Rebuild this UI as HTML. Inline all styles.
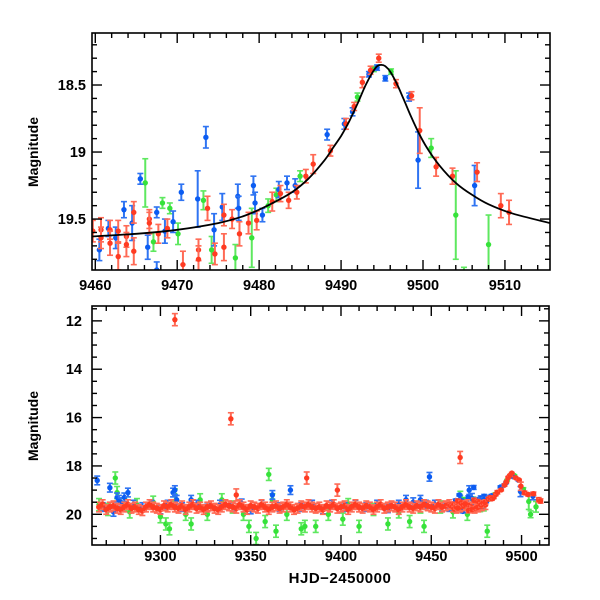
<!DOCTYPE html>
<html><head><meta charset="utf-8"><style>
html,body{margin:0;padding:0;background:#fff;}
svg{display:block;font-family:"Liberation Sans",sans-serif;}
</style></head><body>
<svg id="chart" width="600" height="600" viewBox="0 0 600 600">
<defs>
<clipPath id="c1"><rect x="92" y="33" width="458" height="237"/></clipPath>
<clipPath id="c2"><rect x="92" y="306" width="457" height="239"/></clipPath>
</defs>
<g id="top"></g>
<g id="bot"></g>
<text x="340" y="583" text-anchor="middle" font-size="15" font-weight="bold" letter-spacing="0.5">HJD−2450000</text>
<text transform="translate(38,152) rotate(-90)" text-anchor="middle" font-size="14" font-weight="bold">Magnitude</text>
<text transform="translate(38,426) rotate(-90)" text-anchor="middle" font-size="14" font-weight="bold">Magnitude</text>
</svg>
<script>
// ---- top panel data ----
const topRedDays=[9459.7,9460.7,9460.7,9461.8,9461.8,9462.8,9462.8,9463.8,9463.8,9464.7,9464.7,9466.6,9466.6,9467.7,9468.8,9470.7,9472.6,9472.6,9473.7,9474.6,9475.7,9475.7,9476.7,9477.6,9478.7,9479.7,9481.6,9482.6,9483.6,9484.6,9485.7,9486.6,9488.7,9490.6,9491.6,9492.6,9493.6,9494.6,9496.7,9498.6,9499.6,9501.6,9503.6,9506.6,9509.5,9510.5];
const topRedMags=[19.59,19.58,19.64,19.58,19.68,19.59,19.78,19.63,19.69,19.45,19.74,19.50,19.53,19.61,19.57,19.84,19.73,19.80,19.42,19.76,19.47,19.71,19.50,19.61,19.53,19.51,19.37,19.31,19.36,19.30,19.18,19.09,18.99,18.79,18.66,18.48,18.39,18.30,18.49,18.58,18.84,19.11,19.18,19.15,19.40,19.45];
const topRedErr=[0.08,0.09,0.08,0.07,0.09,0.08,0.1,0.08,0.09,0.08,0.1,0.07,0.08,0.07,0.07,0.1,0.08,0.1,0.09,0.08,0.08,0.1,0.07,0.09,0.08,0.07,0.07,0.06,0.06,0.05,0.05,0.07,0.04,0.04,0.03,0.04,0.03,0.03,0.03,0.03,0.17,0.07,0.06,0.07,0.09,0.09];
const topBlueDays=[9460.5,9461.6,9462.5,9463.5,9464.5,9465.5,9466.4,9467.5,9467.5,9468.5,9469.5,9470.5,9472.5,9473.5,9474.5,9475.5,9477.4,9477.5,9479.3,9479.5,9480.4,9482.4,9483.4,9484.4,9488.3,9490.4,9491.4,9493.4,9494.4,9495.4,9498.3,9499.4,9506.3];
const topBlueMags=[19.73,19.57,19.64,19.43,19.53,19.20,19.71,19.45,19.88,19.59,19.52,19.30,19.35,18.89,19.58,19.41,19.33,19.42,19.25,19.38,19.47,19.28,19.23,19.25,18.87,18.79,18.70,18.42,18.37,18.45,18.59,19.06,19.25];
const topBlueErr=[0.08,0.06,0.08,0.06,0.13,0.04,0.09,0.04,0.06,0.09,0.08,0.06,0.21,0.08,0.12,0.1,0.09,0.09,0.07,0.08,0.05,0.06,0.05,0.05,0.04,0.04,0.03,0.02,0.02,0.02,0.03,0.21,0.15];
const topGreenDays=[9466.1,9467.1,9468.2,9469.1,9470.1,9473.2,9474.2,9477.1,9479.1,9481.1,9482.1,9485.0,9492.0,9494.0,9496.1,9501.0,9504.0,9505.0,9508.0];
const topGreenMags=[19.23,19.67,19.38,19.42,19.61,19.36,19.73,19.79,19.64,19.40,19.32,19.18,18.59,18.38,18.40,18.97,19.47,20.00,19.69];
const topGreenErr=[0.18,0.07,0.04,0.04,0.08,0.07,0.1,0.1,0.22,0.05,0.05,0.04,0.03,0.02,0.02,0.07,0.33,0.14,0.22];
const fitDays=[9459.6,9465,9470,9475,9478,9480,9482,9484,9486,9488,9489,9490,9491,9492,9493,9493.8,9494.4,9494.9,9495.4,9496,9496.8,9497.6,9498.5,9499.5,9500.5,9502,9504,9506,9508,9511,9515.5];
const fitMags=[19.63,19.61,19.58,19.53,19.48,19.43,19.37,19.30,19.20,19.06,18.97,18.88,18.77,18.64,18.50,18.41,18.36,18.35,18.36,18.40,18.49,18.60,18.73,18.86,18.97,19.10,19.23,19.32,19.39,19.46,19.53];
const topXTicks=[9460,9470,9480,9490,9500,9510];
const topYTicks=[18.5,19,19.5];
const topYLabels=["18.5","19","19.5"];
// ---- bottom panel data ----
const bandDays=[9266,9268,9270,9272,9274,9276,9278,9280,9282,9284,9286,9288,9290,9292,9294,9296,9298,9300,9302,9304,9306,9308,9310,9312,9314,9316,9318,9320,9322,9324,9326,9328,9330,9332,9334,9336,9338,9340,9342,9344,9346,9348,9350,9352,9354,9356,9358,9360,9362,9364,9366,9368,9370,9372,9374,9376,9378,9380,9382,9384,9386,9388,9390,9392,9394,9396,9398,9400,9402,9404,9406,9408,9410,9412,9414,9416,9418,9420,9422,9424,9426,9428,9430,9432,9434,9436,9438,9440,9442,9444,9446,9448,9450,9452,9454,9456,9458,9460,9462,9464,9466,9468,9470,9472,9474,9476,9478,9480];
const bandMags=[19.7,19.6,19.8,19.7,19.65,19.75,19.8,19.7,19.6,19.75,19.7,19.8,19.85,19.7,19.6,19.7,19.75,19.8,19.65,19.7,19.6,19.7,19.75,19.65,19.8,19.7,19.6,19.75,19.7,19.8,19.7,19.65,19.75,19.8,19.7,19.6,19.65,19.7,19.75,19.6,19.7,19.8,19.65,19.7,19.75,19.6,19.7,19.8,19.7,19.65,19.75,19.7,19.6,19.7,19.8,19.75,19.65,19.7,19.6,19.7,19.75,19.7,19.8,19.65,19.7,19.6,19.75,19.7,19.65,19.8,19.7,19.6,19.7,19.75,19.65,19.7,19.8,19.7,19.6,19.75,19.7,19.65,19.7,19.8,19.7,19.6,19.7,19.75,19.65,19.7,19.6,19.65,19.7,19.75,19.6,19.7,19.65,19.6,19.7,19.75,19.7,19.65,19.6,19.7,19.75,19.7,19.65,19.6];
const redOutDays=[9308,9339,9342,9381,9398,9466];
const redOutMags=[11.95,16.05,19.2,18.5,19.0,17.65];
const botBlueDays=[9265,9268,9272,9274,9276,9277,9278,9280,9282,9285,9290,9295,9300,9304,9307,9308,9309,9312,9317,9320,9326,9333,9340,9345,9350,9356,9362,9366,9372,9378,9384,9390,9395,9402,9408,9414,9420,9426,9432,9436,9440,9444,9447,9449,9452,9456,9460,9466,9471,9474,9478];
const botBlueMags=[18.6,19.7,18.9,19.9,19.3,19.4,19.5,19.3,19.1,19.6,19.7,19.6,19.8,19.6,19.1,19.0,19.4,19.7,19.4,19.6,19.7,19.6,19.7,19.55,19.8,19.6,19.2,19.7,19.0,19.7,19.6,19.8,19.6,19.7,19.6,19.7,19.6,19.75,19.6,19.4,19.5,19.4,19.6,18.45,19.6,19.7,19.7,19.4,19.0,19.5,19.6];
const botGreenDays=[9266,9271,9275,9276,9280,9283,9287,9296,9300,9303,9305,9308,9314,9317,9322,9326,9334,9340,9346,9349,9353,9358,9360,9362,9364,9370,9378,9380,9386,9393,9401,9404,9410,9418,9426,9432,9438,9444,9446,9455,9462,9470,9481];
const botGreenMags=[19.6,19.8,18.5,19.1,19.6,19.9,19.6,19.5,20.1,20.4,20.6,19.2,20.0,20.4,19.4,20.0,19.4,19.7,20.0,20.5,21.0,20.3,18.35,19.4,20.7,20.0,20.6,20.5,20.5,20.0,20.2,19.6,20.5,19.8,20.4,19.9,20.3,19.7,20.5,19.7,19.9,20.0,20.7];
const botXTicks=[9300,9350,9400,9450,9500];
const botYTicks=[12,14,16,18,20];

const NS="http://www.w3.org/2000/svg";
function mk(parent,tag,attrs){const e=document.createElementNS(NS,tag);for(const k in attrs)e.setAttribute(k,attrs[k]);parent.appendChild(e);return e;}
function lin(d0,d1,p0,p1){return v=>p0+(v-d0)*(p1-p0)/(d1-d0);}

const RED="#ff3b22",BLUE="#0b5cf2",GREEN="#36e23a";
const REDE="#ff6a55",BLUEE="#2f74f2",GREENE="#5ee85f";

function drawFrame(g,L,T,R,B,xs,ys,xMin,xMaj,yMin,yMaj,xLo,xHi,yLo,yHi,xLab,yLab,yLabTxt,labX,labY,pfx){
  mk(g,'rect',{x:L,y:T,width:R-L,height:B-T,fill:'none',stroke:'#000','stroke-width':1.6});
  for(let v=Math.ceil(xLo/xMin)*xMin;v<=xHi;v+=xMin){
    const x=xs(v);const maj=Math.abs(v/xMaj-Math.round(v/xMaj))<1e-6;const len=maj?10:5;
    mk(g,'line',{x1:x,y1:B,x2:x,y2:B-len,stroke:'#000','stroke-width':1.4});
    mk(g,'line',{x1:x,y1:T,x2:x,y2:T+len,stroke:'#000','stroke-width':1.4});
  }
  for(let k=Math.ceil(yLo/yMin);k*yMin<=yHi+1e-9;k++){
    const v=k*yMin;const y=ys(v);const maj=Math.abs(v/yMaj-Math.round(v/yMaj))<1e-6;const len=maj?10:5;
    mk(g,'line',{x1:L,y1:y,x2:L+len,y2:y,stroke:'#000','stroke-width':1.4});
    mk(g,'line',{x1:R,y1:y,x2:R-len,y2:y,stroke:'#000','stroke-width':1.4});
  }
  xLab.forEach(v=>{const t=mk(g,'text',{x:xs(v),y:labY,'text-anchor':'middle','font-size':14.5,'font-weight':'bold'});t.textContent=String(v);
    
    });
  yLab.forEach((v,i)=>{const t=mk(g,'text',{x:labX,y:ys(v)+5,'text-anchor':'end','font-size':14.5,'font-weight':'bold'});t.textContent=yLabTxt[i];
    
    });
}

function drawPts(g,xs,ys,days,mags,errs,col,ecol,r,name){
  days.forEach((d,i)=>{
    const x=xs(d),y=ys(mags[i]);const e=errs[i];
    const grp=mk(g,'g',{});
    
    
    const y1=ys(mags[i]-e),y2=ys(mags[i]+e);
    mk(grp,'line',{x1:x,y1:y1,x2:x,y2:y2,stroke:ecol,'stroke-width':2});
    mk(grp,'line',{x1:x-3,y1:y1,x2:x+3,y2:y1,stroke:ecol,'stroke-width':1.6});
    mk(grp,'line',{x1:x-3,y1:y2,x2:x+3,y2:y2,stroke:ecol,'stroke-width':1.6});
    mk(grp,'circle',{cx:x,cy:y,r:r,fill:col});
  });
}
function smoothPath(px,py){
  let d='M'+px[0].toFixed(1)+','+py[0].toFixed(1);
  for(let i=0;i<px.length-1;i++){
    const i0=Math.max(0,i-1),i3=Math.min(px.length-1,i+2);
    const c1x=px[i]+(px[i+1]-px[i0])/6,c1y=py[i]+(py[i+1]-py[i0])/6;
    const c2x=px[i+1]-(px[i3]-px[i])/6,c2y=py[i+1]-(py[i3]-py[i])/6;
    d+='C'+c1x.toFixed(1)+','+c1y.toFixed(1)+' '+c2x.toFixed(1)+','+c2y.toFixed(1)+' '+px[i+1].toFixed(1)+','+py[i+1].toFixed(1);
  }
  return d;
}

// top panel
const tg=document.getElementById('top');
const tx=lin(9459.6,9515.5,92,550), ty=lin(18.112,19.88,33,270);
const tclip=mk(tg,'g',{'clip-path':'url(#c1)'});
drawPts(tclip,tx,ty,topGreenDays,topGreenMags,topGreenErr,GREEN,GREENE,2.7,'green-point');
drawPts(tclip,tx,ty,topBlueDays,topBlueMags,topBlueErr,BLUE,BLUEE,2.7,'blue-point');
drawPts(tclip,tx,ty,topRedDays,topRedMags,topRedErr,RED,REDE,2.7,'red-point');
const fp=mk(tclip,'path',{d:smoothPath(fitDays.map(tx),fitMags.map(ty)),fill:'none',stroke:'#000','stroke-width':1.8});


drawFrame(tg,92,33,550,270,tx,ty,2,10,0.1,0.5,9459.6,9515.5,18.112,19.88,topXTicks,topYTicks,topYLabels,86,290,'top');

// bottom panel
const bg=document.getElementById('bot');
const bx=lin(9262.1,9515.2,92,549), by=lin(11.385,21.27,306,545);
const bclip=mk(bg,'g',{'clip-path':'url(#c2)'});
drawPts(bclip,bx,by,botGreenDays,botGreenMags,botGreenDays.map(()=>0.25),GREEN,GREENE,2.7,'green-point');
drawPts(bclip,bx,by,topGreenDays,topGreenMags,topGreenErr,GREEN,GREENE,2.7,'green-point');
drawPts(bclip,bx,by,botBlueDays,botBlueMags,botBlueDays.map(()=>0.18),BLUE,BLUEE,2.7,'blue-point');
drawPts(bclip,bx,by,topBlueDays,topBlueMags,topBlueErr,BLUE,BLUEE,2.7,'blue-point');
drawPts(bclip,bx,by,bandDays,bandMags,bandDays.map(()=>0.2),RED,REDE,3,'red-point');
drawPts(bclip,bx,by,topRedDays,topRedMags,topRedErr,RED,REDE,2.8,'red-point');
drawPts(bclip,bx,by,redOutDays,redOutMags,redOutDays.map(()=>0.25),RED,REDE,2.7,'red-point');
drawFrame(bg,92,306,549,545,bx,by,10,50,0.5,2,9262.1,9515.2,11.385,21.27,botXTicks,botYTicks,botYTicks.map(String),82,561,'bottom');
</script>
</body></html>
